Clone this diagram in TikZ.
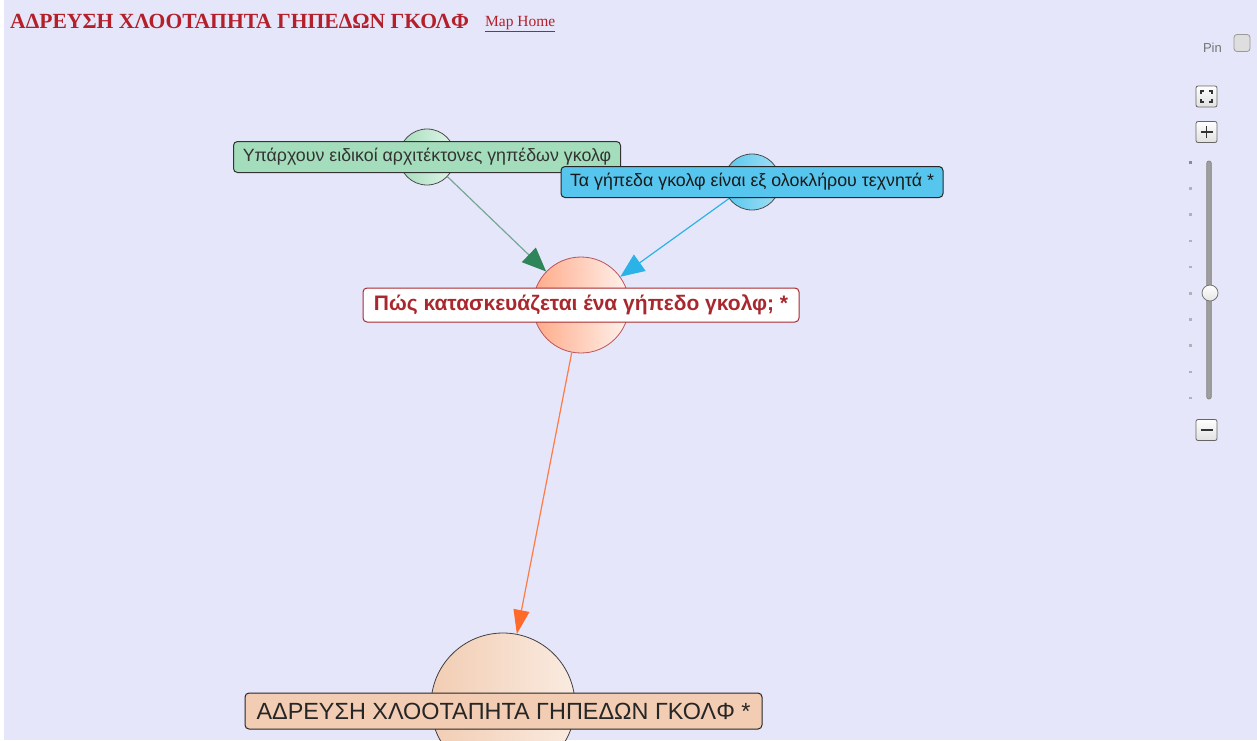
\documentclass[tikz,border=0pt]{standalone}
\usepackage{fontspec}
\setmainfont{Liberation Sans}
\newfontfamily\titlefont{Liberation Serif}
\usetikzlibrary{arrows.meta}

\definecolor{canvas}{HTML}{E6E6FA}
\definecolor{titlered}{HTML}{B3202A}
\definecolor{tagred}{HTML}{A8282E}
\definecolor{greenfill}{HTML}{A3DDBB}
\definecolor{bluefill}{HTML}{56C6EE}
\definecolor{peachfill}{HTML}{F2CDB3}
\definecolor{salmonfill}{HTML}{FFAA88}
\definecolor{greenline}{HTML}{74A894}
\definecolor{greenhead}{HTML}{2E855A}
\definecolor{blueline}{HTML}{2BB3E8}
\definecolor{orangeline}{HTML}{FF7A45}
\definecolor{orangehead}{HTML}{FF6A2A}

\tikzset{
  bubble/.style={circle, inner sep=0pt, draw=#1, line width=0.8pt},
  tag/.style={rectangle, rounded corners=4pt, inner sep=0pt, line width=1pt, align=center},
  edge/.style={line width=1.2pt, draw=#1},
  ctrlbtn/.style={rectangle, rounded corners=2pt, minimum width=21pt, minimum height=21pt,
    inner sep=0pt, draw=black!60, line width=0.8pt, top color=white, bottom color=black!12},
}

\begin{document}
\begin{tikzpicture}[x=1pt,y=-1pt]
\useasboundingbox (0,0) rectangle (1257,740);
\clip (0,0) rectangle (1257,740);
\fill[canvas] (0,0) rectangle (1257,740);
\fill[white] (0,0) rectangle (4,740);

% heading
\node[anchor=base west, inner sep=0pt, text=titlered] (title) at (10,28)
  {\titlefont\bfseries\fontsize{21.6}{22}\selectfont ΑΔΡΕΥΣΗ ΧΛΟΟΤΑΠΗΤΑ ΓΗΠΕΔΩΝ ΓΚΟΛΦ};
\node[anchor=base west, inner sep=0pt, text=titlered] (home) at (485,26)
  {\titlefont\fontsize{15.5}{16}\selectfont\underline{Map Home}};

% circles of the map
\node[bubble=black!70, minimum size=56pt, left color=greenfill, right color=white!70!greenfill] (gc) at (427,157) {};
\node[bubble=black!70, minimum size=56pt, left color=bluefill, right color=white!45!bluefill] (bc) at (752,182) {};
\node[bubble=tagred!80, minimum size=96pt, left color=salmonfill, right color=white!85!salmonfill] (mc) at (581,305) {};
\node[bubble=black!75, minimum size=144pt, left color=peachfill, right color=white!60!peachfill] (fc) at (503,705) {};

% links
\draw[edge=greenline, -{Triangle[length=24pt,width=20pt,color=greenhead,fill=greenhead]}] (gc) -- (mc);
\draw[edge=blueline, -{Triangle[length=24pt,width=20pt]}] (bc) -- (mc);
\draw[edge=orangeline, -{Triangle[length=24pt,width=16pt,color=orangehead,fill=orangehead]}] (mc) -- (fc);

% labels
\node[tag, draw=black!80, fill=greenfill, minimum width=387pt, minimum height=31pt,
  font=\fontsize{17.8}{18}\selectfont, text=black!80] (gl) at (gc.center)
  {Υπάρχουν ειδικοί αρχιτέκτονες γηπέδων γκολφ};
\node[tag, draw=black!85, fill=bluefill, minimum width=382pt, minimum height=31pt,
  font=\fontsize{17.8}{18}\selectfont, text=black!90] (bl) at (bc.center)
  {Τα γήπεδα γκολφ είναι εξ ολοκλήρου τεχνητά *};
\node[tag, draw=tagred, fill=white, minimum width=436pt, minimum height=34pt,
  font=\bfseries\fontsize{21}{21}\selectfont, text=tagred] (ml) at (mc.center)
  {Πώς κατασκευάζεται ένα γήπεδο γκολφ; *};
\node[tag, draw=black!85, fill=peachfill, minimum width=517pt, minimum height=36pt,
  font=\fontsize{23.4}{24}\selectfont, text=black!85] (fl) at (503.5,711)
  {ΑΔΡΕΥΣΗ ΧΛΟΟΤΑΠΗΤΑ ΓΗΠΕΔΩΝ ΓΚΟΛΦ *};

% pin box
\node[anchor=base east, inner sep=0pt, text=black!55, font=\fontsize{13}{13}\selectfont] (pin) at (1222,52) {Pin};
\node[rectangle, rounded corners=3pt, minimum width=16pt, minimum height=17pt, inner sep=0pt,
  fill=black!13, draw=black!40, line width=0.8pt] (pinbox) at (1242,43) {};

% zoom controls
\node[ctrlbtn] (fit) at (1206.5,96.5) {};
\begin{scope}[shift={(fit.center)}, line width=1.2pt, black!80]
  \draw (-5.5,-2.5) -- (-5.5,-5.5) -- (-2.5,-5.5);
  \draw (2.5,-5.5) -- (5.5,-5.5) -- (5.5,-2.5);
  \draw (-5.5,2.5) -- (-5.5,5.5) -- (-2.5,5.5);
  \draw (2.5,5.5) -- (5.5,5.5) -- (5.5,2.5);
\end{scope}
\node[ctrlbtn] (zin) at (1206.5,132) {};
\draw[line width=1.2pt, black!80] ([xshift=-6pt]zin.center) -- ([xshift=6pt]zin.center);
\draw[line width=1.2pt, black!80] ([yshift=-6pt]zin.center) -- ([yshift=6pt]zin.center);
\node[ctrlbtn] (zout) at (1206.5,430) {};
\draw[line width=1.2pt, black!80] ([xshift=-6pt]zout.center) -- ([xshift=6pt]zout.center);

% slider
\node[rectangle, rounded corners=2pt, minimum width=4.5pt, minimum height=238pt, inner sep=0pt,
  fill=black!38, draw=black!50, line width=0.6pt] (track) at (1209,280) {};
\foreach \k in {0,...,9}
  \fill[black!30] (1189,161+26.2*\k) rectangle ++(2.6,2.6);
\fill[black!45] (1189,161) rectangle ++(2.6,2.6);
\node[circle, minimum size=16pt, inner sep=0pt, draw=black!55, line width=0.8pt,
  top color=white, bottom color=black!10] (knob) at (1210,293) {};
\end{tikzpicture}
\end{document}
